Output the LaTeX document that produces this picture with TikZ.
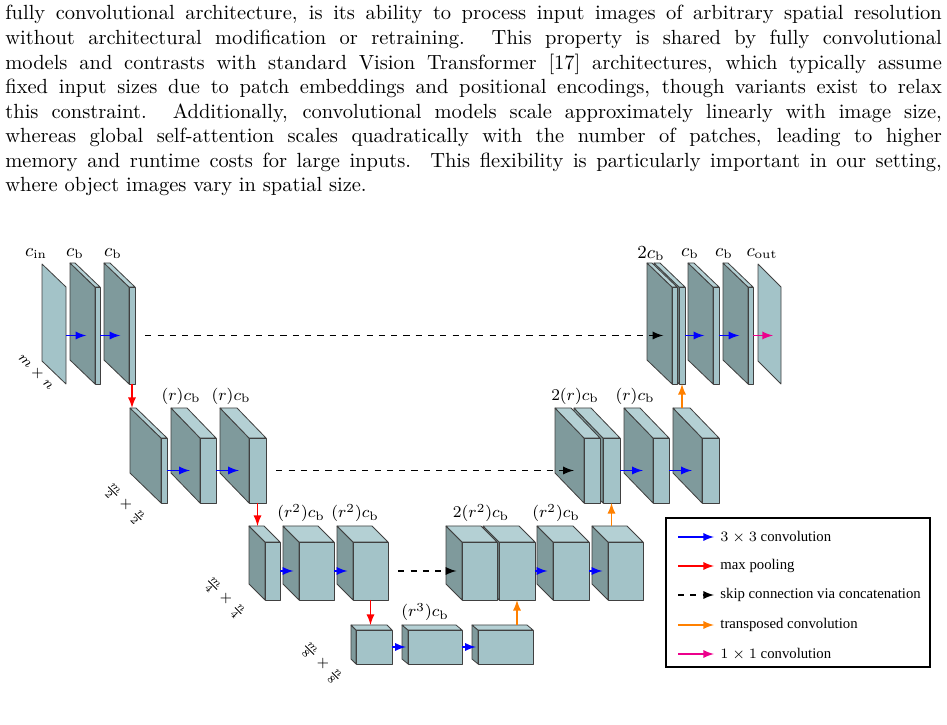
\documentclass[tikz,border=0pt]{standalone}
\usepackage{fontspec}
\newfontfamily\legendfont{Liberation Serif}
\usetikzlibrary{arrows}
\definecolor{fside}{HTML}{7F9A9C}
\definecolor{ffront}{HTML}{A3C3C8}
\definecolor{ftop}{HTML}{B4D0D4}
\tikzset{
  face/.style={draw=black!75,line join=round},
  conv/.style={-latex,thick,blue},
  pool/.style={-latex,thick,red},
  skip/.style={-latex,thick,dashed,black},
  up/.style={-latex,thick,orange},
  outc/.style={-latex,thick,magenta},
  lab/.style={inner sep=0pt,font=\small},
  dimlab/.style={inner sep=0pt,font=\scriptsize,rotate=-45}
}
% feature map: name, x, y, w, h, dx, dy (front face at (x,y), depth to the upper left)
\newcommand\fmap[7]{%
  \filldraw[face,fill=fside] (#2,#3) -- (#2-#6,#3-#7) -- (#2-#6,#3+#5-#7) -- (#2,#3+#5) -- cycle;
  \filldraw[face,fill=ftop] (#2,#3) -- (#2-#6,#3-#7) -- (#2+#4-#6,#3-#7) -- (#2+#4,#3) -- cycle;
  \filldraw[face,fill=ffront] (#2,#3) rectangle (#2+#4,#3+#5);
  \coordinate (#1-e) at (#2+#4,#3+#5/2);
  \coordinate (#1-in) at (#2-0.35*#6,#3+#5/2);
  \coordinate (#1-bt) at (#2+#4/2-#6/2,#3-#7);
  \coordinate (#1-b) at (#2+#4/2,#3+#5);
}
% flat map: name, x, y, h, dx, dy
\newcommand\fplane[6]{%
  \filldraw[face,fill=ffront] (#2,#3) -- (#2-#5,#3-#6) -- (#2-#5,#3+#4-#6) -- (#2,#3+#4) -- cycle;
  \coordinate (#1-e) at (#2,#3+#4/2);
  \coordinate (#1-in) at (#2-0.35*#5,#3+#4/2);
}
\begin{document}
\begin{tikzpicture}[x=0.488pt,y=-0.488pt]
  \useasboundingbox (0,0) rectangle (947,725);
  \node[anchor=north west,inner sep=0pt,text width=457pt,align=justify] (para) at (5,5) {%
    fully convolutional architecture, is its ability to process input images of arbitrary spatial resolution\linebreak
    without architectural modification or retraining.\ \ This property is shared by fully convolutional\linebreak
    models and contrasts with standard Vision Transformer [17] architectures, which typically assume\linebreak
    fixed input sizes due to patch embeddings and positional encodings, though variants exist to relax\linebreak
    this constraint.\ \ Additionally, convolutional models scale approximately linearly with image size,\linebreak
    whereas global self-attention scales quadratically with the number of patches, leading to higher\linebreak
    memory and runtime costs for large inputs.\ \ This flexibility is particularly important in our setting,\linebreak
    where object images vary in spatial size.\par};

  % level 1
  \fplane{in}{66}{287}{97}{24}{23}
  \fmap{e1a}{95}{287}{5}{97}{25}{24}
  \fmap{e1b}{129}{287}{6}{97}{25}{24}
  \fmap{d1b}{679}{287}{6}{97}{25}{24}
  \fmap{d1a}{672}{287}{5}{97}{25}{24}
  \fmap{d1c}{713}{287}{6}{97}{25}{24}
  \fmap{d1d}{748}{287}{5}{97}{25}{24}
  \fplane{out}{781}{287}{97}{23}{23}
  % level 2
  \fmap{e2a}{161}{438}{6}{65}{31}{30}
  \fmap{e2b}{200}{438}{16}{65}{29}{30}
  \fmap{e2c}{249}{438}{17}{65}{29}{30}
  \fmap{d2b}{603}{438}{17}{65}{29}{30}
  \fmap{d2a}{584}{438}{16}{65}{29}{30}
  \fmap{d2c}{653}{438}{16}{65}{29}{30}
  \fmap{d2d}{702}{438}{17}{65}{29}{30}
  % level 3
  \fmap{e3a}{265}{542}{15}{58}{16}{16}
  \fmap{e3b}{299}{542}{35}{58}{16}{16}
  \fmap{e3c}{353}{542}{35}{58}{16}{16}
  \fmap{d3b}{499}{542}{36}{58}{16}{16}
  \fmap{d3a}{462}{542}{35}{58}{16}{16}
  \fmap{d3c}{553}{542}{36}{58}{16}{16}
  \fmap{d3d}{608}{542}{35}{58}{16}{16}
  % level 4
  \fmap{b4a}{356}{630}{36}{34}{5}{5}
  \fmap{b4b}{408}{630}{54}{34}{6}{5}
  \fmap{b4c}{478}{630}{55}{34}{6}{5}

  % connectors
  \draw[conv] (in-e) -- (e1a-in);
  \draw[conv] (e1a-e) -- (e1b-in);
  \draw[skip] ([xshift=5]e1b-e) -- (d1a-in);
  \draw[conv] (d1b-e) -- (d1c-in);
  \draw[conv] (d1c-e) -- (d1d-in);
  \draw[outc] (d1d-e) -- (out-in);
  \draw[pool] (e1b-b) -- (e1b-b |- e2a-bt);
  \draw[conv] (e2a-e) -- (e2b-in);
  \draw[conv] (e2b-e) -- (e2c-in);
  \draw[skip] ([xshift=5]e2c-e) -- (d2a-in);
  \draw[conv] (d2b-e) -- (d2c-in);
  \draw[conv] (d2c-e) -- (d2d-in);
  \draw[up] (d1b-b |- d2d-bt) -- (d1b-b);
  \draw[pool] (e2c-b) -- (e2c-b |- e3a-bt);
  \draw[conv] (e3a-e) -- (e3b-in);
  \draw[conv] (e3b-e) -- (e3c-in);
  \draw[skip] ([xshift=5]e3c-e) -- (d3a-in);
  \draw[conv] (d3b-e) -- (d3c-in);
  \draw[conv] (d3c-e) -- (d3d-in);
  \draw[up] (d2b-b |- d3d-bt) -- (d2b-b);
  \draw[pool] (e3c-b) -- (e3c-b |- b4a-bt);
  \draw[conv] (b4a-e) -- (b4b-in);
  \draw[conv] (b4b-e) -- (b4c-in);
  \draw[up] (d3b-b |- b4c-bt) -- (d3b-b);

  % labels
  \node[lab] (lin) at (36,254) {$c_{\mathrm{in}}$};
  \node[lab] (l1a) at (75,254) {$c_{\mathrm{b}}$};
  \node[lab] (l1b) at (113,254) {$c_{\mathrm{b}}$};
  \node[lab] (l1c) at (651,254) {$2c_{\mathrm{b}}$};
  \node[lab] (l1d) at (690,254) {$c_{\mathrm{b}}$};
  \node[lab] (l1e) at (724,254) {$c_{\mathrm{b}}$};
  \node[lab] (l1f) at (762,254) {$c_{\mathrm{out}}$};
  \node[lab,font=\footnotesize] (l2a) at (181,396) {$(r)c_{\mathrm{b}}$};
  \node[lab,font=\footnotesize] (l2b) at (231,396) {$(r)c_{\mathrm{b}}$};
  \node[lab,font=\footnotesize] (l2c) at (575,396) {$2(r)c_{\mathrm{b}}$};
  \node[lab,font=\footnotesize] (l2d) at (635,396) {$(r)c_{\mathrm{b}}$};
  \node[lab,font=\footnotesize] (l3a) at (301,513) {$(r^2)c_{\mathrm{b}}$};
  \node[lab,font=\footnotesize] (l3b) at (355,513) {$(r^2)c_{\mathrm{b}}$};
  \node[lab,font=\footnotesize] (l3c) at (481,513) {$2(r^2)c_{\mathrm{b}}$};
  \node[lab,font=\footnotesize] (l3d) at (556,513) {$(r^2)c_{\mathrm{b}}$};
  \node[lab,font=\footnotesize] (l4a) at (425,612) {$(r^3)c_{\mathrm{b}}$};
  \node[dimlab] (s1) at (36,372) {$m\times n$};
  \node[dimlab] (s2) at (124,504) {$\frac{m}{2}\times\frac{n}{2}$};
  \node[dimlab] (s3) at (224,598) {$\frac{m}{4}\times\frac{n}{4}$};
  \node[dimlab] (s4) at (321,663) {$\frac{m}{8}\times\frac{n}{8}$};

  % legend
  \draw[thick] (666,518) rectangle (930,667);
  \foreach \yy/\sty/\txt in {537/conv/{$3\times3$ convolution},566/pool/max pooling,
      595/skip/skip connection via concatenation,625/up/transposed convolution,654/outc/{$1\times1$ convolution}}{
    \draw[\sty] (678,\yy) -- (714,\yy);
    \node[anchor=west,inner sep=0pt,font=\legendfont\fontsize{7.2}{8}\selectfont] at (720,\yy) {\txt};
  }
\end{tikzpicture}
\end{document}
